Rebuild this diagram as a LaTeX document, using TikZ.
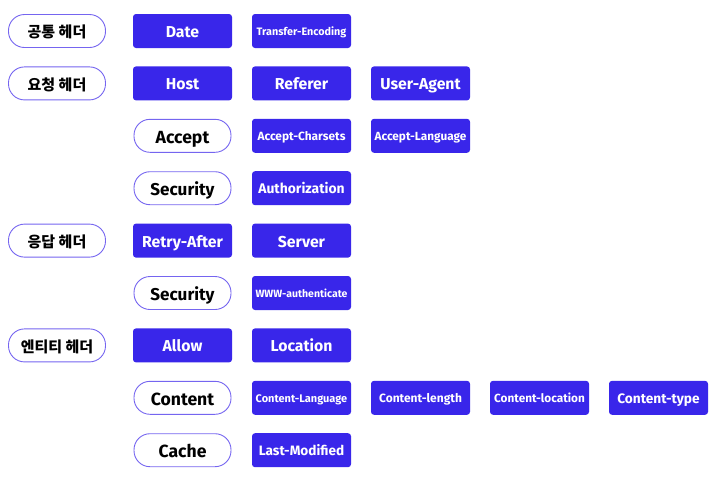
\documentclass[tikz,border=0pt]{standalone}
\usepackage{fontspec}
\setmainfont{Fira Sans}
\newfontfamily\kr{Noto Sans CJK KR}
\definecolor{hblue}{HTML}{3926EA}
\definecolor{hline}{HTML}{7565F0}
\newcommand\fs[1]{\fontsize{#1}{#1}\selectfont}
\tikzset{
  sz/.style={font=\bfseries\fs{#1}, text height={#1*0.95pt}, text depth={#1*0.13pt}},
  cat/.style={inner sep=0pt, draw=hline, line width=0.9pt, fill=white, rounded corners=16pt,
    minimum width=97pt, minimum height=33pt, text=black, sz=17.6},
  krcat/.style={cat, font=\kr\bfseries\fs{15}, text height=15.4pt, text depth=2pt},
  tag/.style={inner sep=0pt, fill=hblue, rounded corners=3pt, minimum width=99pt, minimum height=34pt,
    text=white, sz=15.8}
}
\begin{document}
\begin{tikzpicture}[x=1pt,y=-1pt]
\useasboundingbox (0,0) rectangle (714,483);
% rows
\def\ra{31}\def\rb{83.4}\def\rc{135.8}\def\rd{188.2}\def\re{240.6}
\def\rf{293}\def\rg{345.4}\def\rh{397.8}\def\ri{450.2}
% column 0
\node[krcat] (common) at (57,\ra) {공통 헤더};
\node[krcat] (request) at (57,\rb) {요청 헤더};
\node[krcat] (response) at (57,\re) {응답 헤더};
\node[krcat] (entity) at (57,\rg) {엔티티 헤더};
% row 1
\node[tag] (date) at (182.5,\ra) {Date};
\node[tag,sz=10.8] (te) at (301.5,\ra) {Transfer-Encoding};
% row 2
\node[tag] (host) at (182.5,\rb) {Host};
\node[tag] (referer) at (301.5,\rb) {Referer};
\node[tag] (ua) at (420.5,\rb) {User-Agent};
% row 3
\node[cat] (accept) at (182.5,\rc) {Accept};
\node[tag,sz=11.9] (ac) at (301.5,\rc) {Accept-Charsets};
\node[tag,sz=11.8] (al) at (420.5,\rc) {Accept-Language};
% row 4
\node[cat,sz=17.1] (sec1) at (182.5,\rd) {Security};
\node[tag,sz=13.9] (auth) at (301.5,\rd) {Authorization};
% row 5
\node[tag] (retry) at (182.5,\re) {Retry-After};
\node[tag] (server) at (301.5,\re) {Server};
% row 6
\node[cat,sz=17.1] (sec2) at (182.5,\rf) {Security};
\node[tag,sz=10.5] (www) at (301.5,\rf) {WWW-authenticate};
% row 7
\node[tag] (allow) at (182.5,\rg) {Allow};
\node[tag] (loc) at (301.5,\rg) {Location};
% row 8
\node[cat] (content) at (182.5,\rh) {Content};
\node[tag,sz=11] (clang) at (301.5,\rh) {Content-Language};
\node[tag,sz=12] (clen) at (420.5,\rh) {Content-length};
\node[tag,sz=11.8] (cloc) at (539.5,\rh) {Content-location};
\node[tag,sz=13.7] (ctype) at (658.5,\rh) {Content-type};
% row 9
\node[cat] (cache) at (182.5,\ri) {Cache};
\node[tag,sz=13.6] (lm) at (301.5,\ri) {Last-Modified};
\end{tikzpicture}
\end{document}
